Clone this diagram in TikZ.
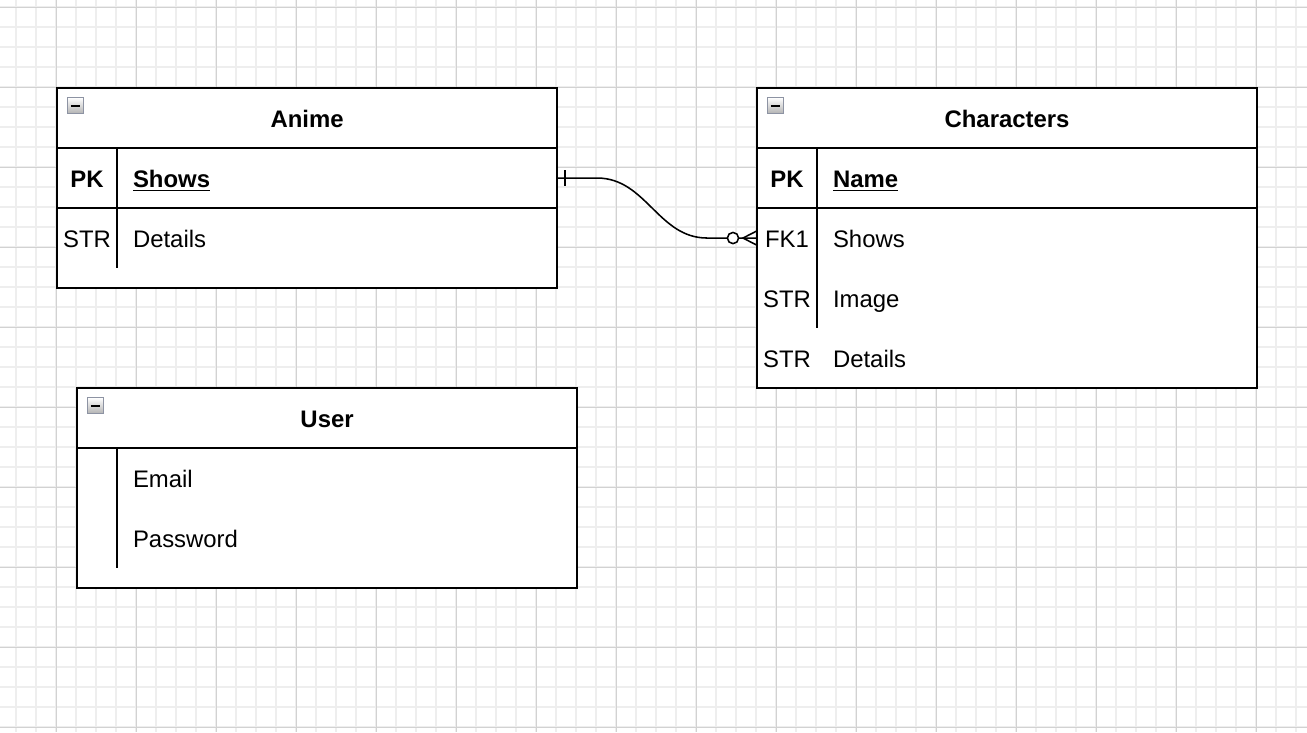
\documentclass[tikz,border=0pt]{standalone}
\usepackage{fontspec}
\setmainfont{Liberation Sans}
\usetikzlibrary{positioning}
\definecolor{gridmajor}{HTML}{D2D2D2}
\definecolor{gridminor}{HTML}{EEEEEE}
\definecolor{iconframe}{HTML}{8D93A3}
\tikzset{
  tbl/.style={draw, line width=1.4pt, inner sep=0, outer sep=0, anchor=north west, minimum width=12.5cm},
  hdr/.style={inner sep=0, outer sep=0, anchor=north west, minimum width=12.5cm, minimum height=1.5cm,
    text height=13.6pt, text depth=0pt, font=\fontsize{17}{20}\selectfont\bfseries},
  keycell/.style={inner sep=0, outer sep=0, minimum width=1.5cm, minimum height=1.5cm,
    text height=13.6pt, text depth=0pt},
  namecell/.style={inner sep=0, inner xsep=0.4cm, outer sep=0, text width=10.2cm, align=left,
    minimum height=1.5cm, text height=13.6pt, text depth=0pt},
  sep/.style={line width=1.4pt},
  rel/.style={line width=1.1pt},
  minusbox/.style={draw=iconframe, line width=0.9pt, top color=white, bottom color=black!30,
    minimum size=0.4cm, inner sep=0, anchor=north west,
    path picture={\draw[black, line width=0.05cm] ([xshift=0.08cm]path picture bounding box.west)
      -- ([xshift=-0.08cm]path picture bounding box.east);}}
}
\begin{document}
\begin{tikzpicture}[x=0.025cm, y=-0.025cm, font=\fontsize{17}{20}\selectfont]
  \useasboundingbox[fill=white] (0,0) rectangle (1307,732);

  % Grid
  \foreach \x in {16,36,...,1306} \draw[gridminor, line width=0.8pt] (\x,0) -- (\x,732);
  \foreach \y in {7,27,...,727} \draw[gridminor, line width=0.8pt] (0,\y) -- (1307,\y);
  \foreach \x in {56,136,...,1296} \draw[gridmajor, line width=0.6pt] (\x,0) -- (\x,732);
  \foreach \y in {7,87,...,727} \draw[gridmajor, line width=0.6pt] (0,\y) -- (1307,\y);

  % Anime table
  \node[tbl, fill=white, minimum height=5cm] (animeBox) at (57,88) {};
  \node[hdr] (anime) at (57,88) {Anime};
  \node[minusbox] (animeMin) at ([xshift=0.25cm, yshift=-0.225cm]anime.north west) {};
  \node[keycell, anchor=north west] (animePK) at (anime.south west) {\textbf{PK}};
  \node[namecell, right=0pt of animePK] (animeShows) {\textbf{\underline{Shows}}};
  \node[keycell, below=0pt of animePK] (animeStr) {STR};
  \node[namecell, right=0pt of animeStr] (animeDetails) {Details};
  \draw[sep] (anime.south west) -- (anime.south east);
  \draw[sep] (animePK.south west) -- (animeShows.south east);
  \draw[sep] (animePK.north east) -- (animeStr.south east);

  % Characters table
  \node[tbl, fill=white, minimum height=7.5cm] (charBox) at (757,88) {};
  \node[hdr] (chars) at (757,88) {Characters};
  \node[minusbox] (charsMin) at ([xshift=0.25cm, yshift=-0.225cm]chars.north west) {};
  \node[keycell, anchor=north west] (charPK) at (chars.south west) {\textbf{PK}};
  \node[namecell, right=0pt of charPK] (charName) {\textbf{\underline{Name}}};
  \node[keycell, below=0pt of charPK] (charFK) {FK1};
  \node[namecell, right=0pt of charFK] (charShows) {Shows};
  \node[keycell, below=0pt of charFK] (charImgKey) {STR};
  \node[namecell, right=0pt of charImgKey] (charImg) {Image};
  \node[keycell, below=0pt of charImgKey] (charDetKey) {STR};
  \node[namecell, right=0pt of charDetKey] (charDet) {Details};
  \draw[sep] (chars.south west) -- (chars.south east);
  \draw[sep] (charPK.south west) -- (charName.south east);
  \draw[sep] (charPK.north east) -- (charImgKey.south east);

  % User table
  \node[tbl, fill=white, minimum height=5cm] (userBox) at (77,388) {};
  \node[hdr] (user) at (77,388) {User};
  \node[minusbox] (userMin) at ([xshift=0.25cm, yshift=-0.225cm]user.north west) {};
  \node[keycell, minimum width=1cm, anchor=north west] (userK1) at (user.south west) {};
  \node[namecell, right=0pt of userK1] (userEmail) {Email};
  \node[keycell, minimum width=1cm, below=0pt of userK1] (userK2) {};
  \node[namecell, right=0pt of userK2] (userPass) {Password};
  \draw[sep] (user.south west) -- (user.south east);
  \draw[sep] (userK1.north east) -- (userK2.south east);

  % Relation Anime -- Characters
  \draw[rel] (animeShows.east) -- ++(40,0) to[out=0, in=180] ++(110,60) -- (charFK.west);
  \draw[rel] ([xshift=0.2cm, yshift=0.2cm]animeShows.east) -- ([xshift=0.2cm, yshift=-0.2cm]animeShows.east);
  \draw[rel] ([yshift=0.18cm]charFK.west) -- ([xshift=-0.35cm]charFK.west) -- ([yshift=-0.18cm]charFK.west);
  \draw[rel, fill=white] ([xshift=-0.6cm]charFK.west) circle (0.14cm);
\end{tikzpicture}
\end{document}
